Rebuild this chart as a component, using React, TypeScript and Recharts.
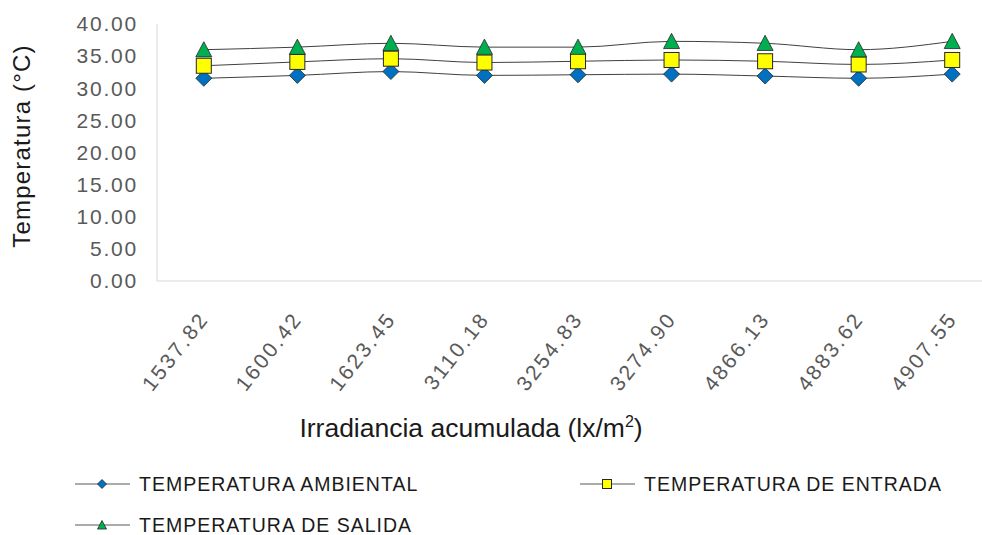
import { LineChart, Line, XAxis, YAxis } from 'recharts';

const irradiancia = ['1537.82', '1600.42', '1623.45', '3110.18', '3254.83', '3274.90', '4866.13', '4883.62', '4907.55'];
const tempAmbiental = [31.55, 32.0, 32.6, 32.0, 32.1, 32.2, 31.9, 31.55, 32.2];
const tempEntrada = [33.5, 34.1, 34.6, 34.0, 34.2, 34.4, 34.2, 33.7, 34.4];
const tempSalida = [36.0, 36.4, 37.0, 36.4, 36.4, 37.3, 37.0, 36.0, 37.3];
const yTicks = [0, 5, 10, 15, 20, 25, 30, 35, 40];

const data = irradiancia.map((x, i) => ({
  x,
  ambiental: tempAmbiental[i],
  entrada: tempEntrada[i],
  salida: tempSalida[i],
}));

const FONT = '"Liberation Sans", Arial, sans-serif';
const LINE_COLOR = '#404040';
const MARKER_STROKE = '#262626';

const Diamond = ({ cx, cy, r = 8 }: any) => (
  <path
    d={`M${cx},${cy - r} L${cx + r},${cy} L${cx},${cy + r} L${cx - r},${cy} Z`}
    fill="#0070C0"
    stroke={MARKER_STROKE}
    strokeWidth={0.8}
  />
);

const Square = ({ cx, cy, r = 7.5 }: any) => (
  <rect x={cx - r} y={cy - r} width={r * 2} height={r * 2} fill="#FFFF00" stroke={MARKER_STROKE} strokeWidth={1} />
);

const Triangle = ({ cx, cy, r = 8 }: any) => (
  <path
    d={`M${cx},${cy - r} L${cx + r},${cy + r * 0.9} L${cx - r},${cy + r * 0.9} Z`}
    fill="#00B050"
    stroke={MARKER_STROKE}
    strokeWidth={0.8}
  />
);

const YTick = ({ x, y, payload }: any) => (
  <text
    x={x - 19}
    y={y}
    dy="0.35em"
    textAnchor="end"
    fill="#595959"
    fontSize={21}
    letterSpacing={1.8}
    fontFamily={FONT}
  >
    {Number(payload.value).toFixed(2)}
  </text>
);

// category labels, slanted upward and ending just right of the point
const XTick = ({ x, y, payload }: any) => {
  const ax = x + 6;
  const ay = y + 38;
  return (
    <text
      x={ax}
      y={ay}
      textAnchor="end"
      fill="#595959"
      fontSize={21}
      letterSpacing={2.5}
      fontFamily={FONT}
      transform={`rotate(-52, ${ax}, ${ay})`}
    >
      {payload.value}
    </text>
  );
};

const legendItems = [
  { label: 'TEMPERATURA AMBIENTAL', Icon: Diamond, x: 75, y: 484 },
  { label: 'TEMPERATURA DE ENTRADA', Icon: Square, x: 580, y: 484 },
  { label: 'TEMPERATURA DE SALIDA', Icon: Triangle, x: 75, y: 525 },
];

export default function App() {
  return (
    <div style={{ position: 'absolute', left: 0, top: 0, width: 982, height: 535, overflow: 'hidden', background: '#fff' }}>
      <LineChart width={1010} height={535} data={data} margin={{ top: 24, right: 11, left: 0, bottom: 194 }}>
        <XAxis
          dataKey="x"
          height={60}
          interval={0}
          padding={{ left: 46.8, right: 46.8 }}
          stroke="#D9D9D9"
          tickLine={false}
          tickSize={0}
          tickMargin={0}
          tick={<XTick />}
        />
        <YAxis
          width={157}
          domain={[0, 40]}
          ticks={yTicks}
          stroke="#D9D9D9"
          tickLine={false}
          tickSize={0}
          tickMargin={0}
          tick={<YTick />}
        />
        <Line
          dataKey="ambiental"
          type="monotone"
          stroke={LINE_COLOR}
          strokeWidth={1}
          dot={(p: any) => <Diamond key={p.index} cx={p.cx} cy={p.cy} />}
          isAnimationActive={false}
        />
        <Line
          dataKey="entrada"
          type="monotone"
          stroke={LINE_COLOR}
          strokeWidth={1}
          dot={(p: any) => <Square key={p.index} cx={p.cx} cy={p.cy} />}
          isAnimationActive={false}
        />
        <Line
          dataKey="salida"
          type="monotone"
          stroke={LINE_COLOR}
          strokeWidth={1}
          dot={(p: any) => <Triangle key={p.index} cx={p.cx} cy={p.cy} />}
          isAnimationActive={false}
        />
      </LineChart>

      {/* axis titles and legend */}
      <svg width={982} height={535} style={{ position: 'absolute', left: 0, top: 0, pointerEvents: 'none' }}>
        <text
          x={30}
          y={146}
          textAnchor="middle"
          fontSize={24}
          letterSpacing={1.2}
          fill="#1a1a1a"
          fontFamily={FONT}
          transform="rotate(-90, 30, 146)"
        >
          Temperatura (°C)
        </text>
        <text x={471} y={437} textAnchor="middle" fontSize={26.5} fill="#1a1a1a" fontFamily={FONT}>
          Irradiancia acumulada (lx/m
          <tspan fontSize={16} dy={-10}>2</tspan>
          <tspan dy={10}>)</tspan>
        </text>
        {legendItems.map(({ label, Icon, x, y }) => (
          <g key={label}>
            <line x1={x} y1={y} x2={x + 55} y2={y} stroke="#595959" strokeWidth={1.2} />
            <Icon cx={x + 27} cy={y} r={4.5} />
            <text x={x + 64} y={y} dy="0.36em" fontSize={19.5} letterSpacing={1.0} fill="#1a1a1a" fontFamily={FONT}>
              {label}
            </text>
          </g>
        ))}
      </svg>
    </div>
  );
}
